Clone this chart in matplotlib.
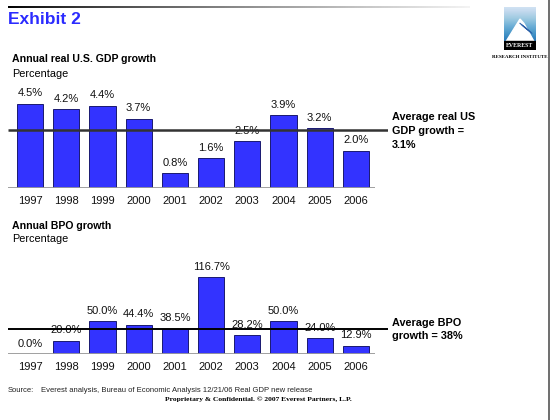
import numpy as np
import matplotlib.pyplot as plt
from matplotlib.patches import Polygon, Rectangle

plt.rcParams['font.family'] = ['Liberation Sans', 'DejaVu Sans']

# data
years = ['1997', '1998', '1999', '2000', '2001', '2002', '2003', '2004', '2005', '2006']
gdp_growth = [4.5, 4.2, 4.4, 3.7, 0.8, 1.6, 2.5, 3.9, 3.2, 2.0]
gdp_avg = 3.1
bpo_growth = [0.0, 20.0, 50.0, 44.4, 38.5, 116.7, 28.2, 50.0, 24.0, 12.9]
bpo_avg = 38

W, H = 550, 420
BAR = '#3333ff'

fig = plt.figure(figsize=(W / 100, H / 100), dpi=100)
fig.patch.set_facecolor('white')


def px_axes(x0, y_top, w, h):
    # axes from pixel box (origin top-left)
    return fig.add_axes([x0 / W, 1 - (y_top + h) / H, w / W, h / H])


# header rule fading to the right
hdr = px_axes(8, 6, 462, 2)
grad = np.linspace(0, 1, 256)[None, :] ** 0.8
hdr.imshow(grad, aspect='auto', cmap='gray', vmin=0, vmax=1.05)
hdr.axis('off')

fig.text(8 / W, 1 - 20 / H, 'Exhibit 2', color='#2b2bff', fontsize=12.5,
         fontweight='bold', va='center', ha='left')

# logo
logo = px_axes(504, 7, 32, 43)
logo.imshow(np.linspace(0, 1, 64)[:, None], aspect='auto', cmap='Blues',
            vmin=-0.3, vmax=1.2, extent=(0, 1, 0, 1))
logo.add_patch(Polygon([[0.05, 0.18], [0.5, 0.72], [0.62, 0.62], [0.95, 0.18]],
                       closed=True, color='white'))
for k in range(4):
    logo.plot([0.5 + 0.05 * k, 0.72 + 0.05 * k], [0.62 - 0.03 * k, 0.48 - 0.03 * k],
              color='#2a5fa8', lw=0.8)
logo.add_patch(Rectangle((0, 0), 1, 0.2, color='black'))
logo.text(0.5, 0.1, 'EVEREST', color='white', fontsize=4.2, fontweight='bold',
          ha='center', va='center', family='Liberation Serif')
logo.set_xlim(0, 1)
logo.set_ylim(0, 1)
logo.axis('off')
fig.text(520 / W, 1 - 57 / H, 'RESEARCH INSTITUTE', fontsize=3.6, fontweight='bold',
         ha='center', va='center', family='Liberation Serif')

# right border
fig.add_artist(plt.Line2D([548.5 / W, 548.5 / W], [0, 1], color='#555555', lw=1.2))

x = np.arange(len(years))
XL = (-0.61, 9.9)
ax_w = (XL[1] - XL[0]) * 36.2


def bar_panel(ax, vals, avg, ymax, avg_color, avg_lw):
    ax.bar(x, vals, width=0.72, color=BAR, edgecolor='#1a1a70', linewidth=0.7, zorder=2)
    ax.hlines(0, XL[0], 9.53, color='#999999', lw=1.3, zorder=3)
    ax.hlines(avg, XL[0], XL[1], color=avg_color, lw=avg_lw, zorder=4)
    for xi, v, yl in zip(x, vals, years):
        ax.annotate(f'{v:.1f}%', (xi, v), xytext=(0, 7.5), textcoords='offset points',
                    ha='center', va='center', fontsize=8, color='#111111',
                    annotation_clip=False, zorder=1)
        ax.annotate(yl, (xi, 0), xytext=(0, -9.3), textcoords='offset points',
                    ha='center', va='center', fontsize=8, color='#111111',
                    annotation_clip=False)
    ax.set_xlim(*XL)
    ax.set_ylim(0, ymax)
    ax.axis('off')


# top panel: GDP growth
ax1 = px_axes(8, 188 - 93.5, ax_w, 93.5)
bar_panel(ax1, gdp_growth, gdp_avg, 5.0, '#333333', 1.8)
fig.text(12 / W, 1 - 59 / H, 'Annual real U.S. GDP growth', fontsize=7.6,
         fontweight='bold', va='center')
fig.text(12 / W, 1 - 74 / H, 'Percentage', fontsize=7.8, va='center')
fig.text(392 / W, 1 - 131 / H, f'Average real US\nGDP growth =\n{gdp_avg}%',
         fontsize=7.8, fontweight='bold', va='center', linespacing=1.45)

# bottom panel: BPO growth
ax2 = px_axes(8, 354 - 78.8, ax_w, 78.8)
bar_panel(ax2, bpo_growth, bpo_avg, 120, '#000000', 1.4)
fig.text(12 / W, 1 - 226 / H, 'Annual BPO growth', fontsize=7.6,
         fontweight='bold', va='center')
fig.text(12 / W, 1 - 239 / H, 'Percentage', fontsize=7.8, va='center')
fig.text(392 / W, 1 - 329.5 / H, f'Average BPO\ngrowth = {bpo_avg}%',
         fontsize=7.8, fontweight='bold', va='center', linespacing=1.45)

# source and footer
fig.text(8 / W, 1 - 390 / H, 'Source:', fontsize=5.5, va='center', color='#222222')
fig.text(41 / W, 1 - 390 / H,
         'Everest analysis, Bureau of Economic Analysis 12/21/06 Real GDP new release',
         fontsize=5.5, va='center', color='#222222')
fig.text(258 / W, 1 - 399 / H,
         'Proprietary & Confidential. \u00a9 2007 Everest Partners, L.P.',
         fontsize=5.4, fontweight='bold', ha='center', va='center',
         family='Liberation Serif')

fig.savefig('out.png', dpi=100)
